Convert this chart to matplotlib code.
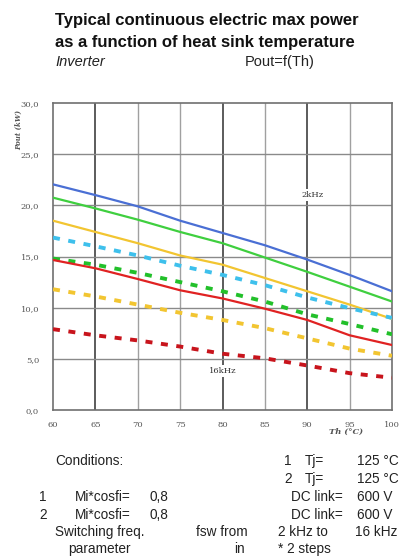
import numpy as np
import matplotlib.pyplot as plt

# --- Data (Pout in kW vs heat sink temperature) ---
th = [60, 65, 70, 75, 80, 85, 90, 95, 100]

blue_solid = [22.05, 21.0, 19.9, 18.5, 17.3, 16.1, 14.7, 13.2, 11.6]
green_solid = [20.75, 19.7, 18.6, 17.4, 16.3, 14.9, 13.5, 12.05, 10.6]
yellow_solid = [18.5, 17.4, 16.3, 15.1, 14.2, 12.9, 11.6, 10.3, 8.9]
cyan_dash = [16.85, 16.0, 15.1, 14.1, 13.2, 12.2, 11.0, 9.95, 9.0]
green_dash = [14.8, 14.2, 13.4, 12.5, 11.6, 10.6, 9.35, 8.4, 7.4]
red_solid = [14.66, 13.85, 12.8, 11.7, 10.9, 9.9, 8.8, 7.3, 6.35]
yellow_dash = [11.8, 11.1, 10.3, 9.5, 8.8, 8.0, 7.0, 6.0, 5.3]
red_dash = [7.9, 7.3, 6.8, 6.2, 5.5, 5.05, 4.35, 3.6, 3.15]

x_ticks = [60, 65, 70, 75, 80, 85, 90, 95, 100]
y_ticks = [0, 5, 10, 15, 20, 25, 30]
dark_vlines = [65, 80, 90]
light_vlines = [70, 75, 85, 95]

# --- Figure ---
fig = plt.figure(figsize=(4.06, 5.57), dpi=100)
ax = fig.add_axes([53 / 406, 1 - 410 / 557, 339 / 406, 307 / 557])

for x in light_vlines:
    ax.axvline(x, color='#a0a0a0', lw=1.0, zorder=1)
for x in dark_vlines:
    ax.axvline(x, color='#404040', lw=1.2, zorder=1)
for y in y_ticks[1:-1]:
    ax.axhline(y, color='#8a8a8a', lw=1.0, zorder=1)

dash = (0, (1.8, 2.2))
ax.plot(th, blue_solid, color='#4a6fd4', lw=1.6, zorder=3)
ax.plot(th, green_solid, color='#3fcf3f', lw=1.6, zorder=3)
ax.plot(th, yellow_solid, color='#f2c531', lw=1.6, zorder=3)
ax.plot(th, cyan_dash, color='#3ec0ec', lw=2.8, ls=dash, zorder=3)
ax.plot(th, green_dash, color='#22c02a', lw=2.8, ls=dash, zorder=3)
ax.plot(th, red_solid, color='#e02222', lw=1.6, zorder=3)
ax.plot(th, yellow_dash, color='#f2c531', lw=2.8, ls=dash, zorder=3)
ax.plot(th, red_dash, color='#c8141c', lw=2.8, ls=dash, zorder=3)

ax.text(90.6, 21.0, '2kHz', fontsize=6, family='DejaVu Serif', ha='center', va='center',
        color='#333333', bbox=dict(fc='white', ec='none', pad=1.5), zorder=2)
ax.text(80.0, 3.8, '16kHz', fontsize=6, family='DejaVu Serif', ha='center', va='center',
        color='#333333', bbox=dict(fc='white', ec='none', pad=1.5), zorder=2)

ax.set_xlim(60, 100)
ax.set_ylim(0, 30)
ax.set_xticks(x_ticks)
ax.set_yticks(y_ticks)
ax.set_xticklabels([str(v) for v in x_ticks], fontsize=6, family='DejaVu Serif', color='#555555')
ax.set_yticklabels([('%.1f' % v).replace('.', ',') for v in y_ticks],
                   fontsize=6, family='DejaVu Serif', color='#555555')
ax.tick_params(length=0, pad=8)
ax.tick_params(axis='y', pad=10)
for s in ax.spines.values():
    s.set_color('#707070')
    s.set_linewidth(1.2)

fig.text(346 / 406, 1 - 432 / 557, 'Th (°C)', fontsize=6, family='DejaVu Serif',
         style='italic', weight='bold', color='#555555', ha='center', va='center')
fig.text(19 / 406, 1 - 110 / 557, 'Pout (kW)', fontsize=5, family='DejaVu Serif',
         style='italic', weight='bold', color='#555555', rotation=90, ha='center', va='top')

# --- Header text ---
sans = 'Liberation Sans'
fig.text(55 / 406, 1 - 21 / 557, 'Typical continuous electric max power', fontsize=12,
         family=sans, weight='bold', va='center', color='#111111')
fig.text(55 / 406, 1 - 42 / 557, 'as a function of heat sink temperature', fontsize=12,
         family=sans, weight='bold', va='center', color='#111111')
fig.text(55 / 406, 1 - 62 / 557, 'Inverter', fontsize=10.5, family=sans, style='italic',
         va='center', color='#222222')
fig.text(245 / 406, 1 - 62 / 557, 'Pout=f(Th)', fontsize=10.5, family=sans,
         va='center', color='#222222')

# --- Conditions table ---
rows_y = [461, 479, 497, 515, 532, 549]
def t(x, row, s, ha='left'):
    fig.text(x / 406, 1 - rows_y[row] / 557, s, fontsize=9.8, family=sans,
             va='center', ha=ha, color='#222222')

t(55, 0, 'Conditions:')
t(288, 0, '1', 'center'); t(305, 0, 'Tj='); t(357, 0, '125 °C')
t(288, 1, '2', 'center'); t(305, 1, 'Tj='); t(357, 1, '125 °C')
t(43, 2, '1', 'center'); t(75, 2, 'Mi*cosfi='); t(150, 2, '0,8')
t(343, 2, 'DC link=', 'right'); t(357, 2, '600 V')
t(43, 3, '2', 'center'); t(75, 3, 'Mi*cosfi='); t(150, 3, '0,8')
t(343, 3, 'DC link=', 'right'); t(357, 3, '600 V')
t(55, 4, 'Switching freq.'); t(248, 4, 'fsw from', 'right')
t(278, 4, '2 kHz to'); t(355, 4, '16 kHz')
t(68, 5, 'parameter'); t(245, 5, 'in', 'right'); t(278, 5, '* 2 steps')

fig.savefig('out.png', dpi=100, facecolor='white')
